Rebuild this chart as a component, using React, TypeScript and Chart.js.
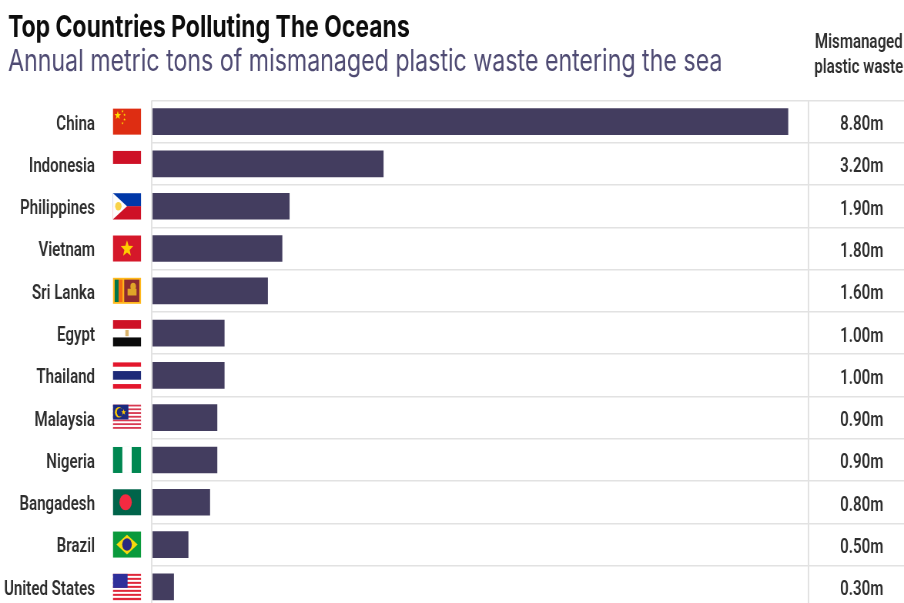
import React, { useEffect, useRef } from "react";
import { Chart, registerables } from "chart.js";

Chart.register(...registerables);

const countries = ["China", "Indonesia", "Philippines", "Vietnam", "Sri Lanka", "Egypt", "Thailand", "Malaysia", "Nigeria", "Bangadesh", "Brazil", "United States"];
const wasteMillions = [8.8, 3.2, 1.9, 1.8, 1.6, 1.0, 1.0, 0.9, 0.9, 0.8, 0.5, 0.3];
const columnHeader = ["Mismanaged", "plastic waste"];
const titleText = "Top Countries Polluting The Oceans";
const subtitleText = "Annual metric tons of mismanaged plastic waste entering the sea";

// The drawing is laid out on a wider canvas and narrowed with a CSS transform.
const SQUEEZE = 0.77;
const VIEW_W = 904;
const VIEW_H = 603;
const CANVAS_W = Math.round(VIEW_W / SQUEEZE);
const CANVAS_H = 608;
const sx = (x: number) => x / SQUEEZE;

const LABEL_FONT = { family: "Roboto", size: 19.6, weight: 600 };
const LABEL_COLOR = "#2e2e2e";

type Ctx = CanvasRenderingContext2D;

function hStripes(c: Ctx, x: number, y: number, w: number, h: number, colors: string[], weights?: number[]) {
  const ws = weights ?? colors.map(() => 1);
  const total = ws.reduce((a, b) => a + b, 0);
  let cy = y;
  colors.forEach((col, i) => {
    const sh = (ws[i] / total) * h;
    c.fillStyle = col;
    c.fillRect(x, cy, w, sh + 0.3);
    cy += sh;
  });
}

function star(c: Ctx, cx: number, cy: number, r: number, color: string) {
  c.fillStyle = color;
  c.beginPath();
  for (let i = 0; i < 10; i++) {
    const rad = i % 2 === 0 ? r : r * 0.42;
    const a = -Math.PI / 2 + (i * Math.PI) / 5;
    const px = cx + rad * Math.cos(a);
    const py = cy + rad * Math.sin(a);
    if (i === 0) c.moveTo(px, py);
    else c.lineTo(px, py);
  }
  c.closePath();
  c.fill();
}

const flagPainters: ((c: Ctx, x: number, y: number, w: number, h: number) => void)[] = [
  // China
  (c, x, y, w, h) => {
    c.fillStyle = "#de2d12";
    c.fillRect(x, y, w, h);
    star(c, x + w * 0.17, y + h * 0.26, h * 0.17, "#ffde00");
    [[0.34, 0.1], [0.41, 0.24], [0.41, 0.42], [0.34, 0.56]].forEach(([a, b]) => star(c, x + w * a, y + h * b, h * 0.06, "#ffde00"));
  },
  // Indonesia
  (c, x, y, w, h) => hStripes(c, x, y, w, h, ["#ce1126", "#ffffff"]),
  // Philippines
  (c, x, y, w, h) => {
    hStripes(c, x, y, w, h, ["#0038a8", "#ce1126"]);
    c.fillStyle = "#fdfdfd";
    c.beginPath();
    c.moveTo(x, y);
    c.lineTo(x + w * 0.5, y + h / 2);
    c.lineTo(x, y + h);
    c.closePath();
    c.fill();
    c.fillStyle = "#f8d24a";
    c.beginPath();
    c.arc(x + w * 0.19, y + h / 2, h * 0.16, 0, Math.PI * 2);
    c.fill();
  },
  // Vietnam
  (c, x, y, w, h) => {
    c.fillStyle = "#d5182a";
    c.fillRect(x, y, w, h);
    star(c, x + w / 2, y + h * 0.51, h * 0.33, "#ffcd00");
  },
  // Sri Lanka
  (c, x, y, w, h) => {
    c.fillStyle = "#ffb81c";
    c.fillRect(x, y, w, h);
    c.fillStyle = "#00754a";
    c.fillRect(x + w * 0.06, y + h * 0.07, w * 0.14, h * 0.86);
    c.fillStyle = "#f26a12";
    c.fillRect(x + w * 0.2, y + h * 0.07, w * 0.14, h * 0.86);
    c.fillStyle = "#8d2a30";
    c.fillRect(x + w * 0.4, y + h * 0.07, w * 0.54, h * 0.86);
    c.fillStyle = "#e0a428";
    c.fillRect(x + w * 0.52, y + h * 0.42, w * 0.32, h * 0.26);
    c.beginPath();
    c.arc(x + w * 0.72, y + h * 0.33, h * 0.14, 0, Math.PI * 2);
    c.fill();
  },
  // Egypt
  (c, x, y, w, h) => {
    hStripes(c, x, y, w, h, ["#ce1126", "#ffffff", "#0a0a0a"]);
    c.fillStyle = "#d9b26a";
    c.fillRect(x + w * 0.44, y + h * 0.38, w * 0.12, h * 0.24);
  },
  // Thailand
  (c, x, y, w, h) => hStripes(c, x, y, w, h, ["#e3172d", "#ffffff", "#1d2a78", "#ffffff", "#e3172d"], [1, 1, 2, 1, 1]),
  // Malaysia
  (c, x, y, w, h) => {
    const rows = Array.from({ length: 14 }, (_, i) => (i % 2 === 0 ? "#d83a52" : "#ffffff"));
    hStripes(c, x, y, w, h, rows);
    c.fillStyle = "#1b2a80";
    c.fillRect(x, y, w * 0.55, h * 0.57);
    c.fillStyle = "#ffcc00";
    c.beginPath();
    c.arc(x + w * 0.21, y + h * 0.29, h * 0.2, 0, Math.PI * 2);
    c.fill();
    c.fillStyle = "#1b2a80";
    c.beginPath();
    c.arc(x + w * 0.25, y + h * 0.29, h * 0.16, 0, Math.PI * 2);
    c.fill();
    star(c, x + w * 0.38, y + h * 0.29, h * 0.12, "#ffcc00");
  },
  // Nigeria
  (c, x, y, w, h) => {
    c.fillStyle = "#008751";
    c.fillRect(x, y, w, h);
    c.fillStyle = "#ffffff";
    c.fillRect(x + w / 3, y, w / 3, h);
  },
  // Bangladesh
  (c, x, y, w, h) => {
    c.fillStyle = "#00644a";
    c.fillRect(x, y, w, h);
    c.fillStyle = "#f42a41";
    c.beginPath();
    c.arc(x + w * 0.45, y + h / 2, h * 0.31, 0, Math.PI * 2);
    c.fill();
  },
  // Brazil
  (c, x, y, w, h) => {
    c.fillStyle = "#0a9a3c";
    c.fillRect(x, y, w, h);
    c.fillStyle = "#f7d90e";
    c.beginPath();
    c.moveTo(x + w * 0.12, y + h / 2);
    c.lineTo(x + w / 2, y + h * 0.12);
    c.lineTo(x + w * 0.88, y + h / 2);
    c.lineTo(x + w / 2, y + h * 0.88);
    c.closePath();
    c.fill();
    c.fillStyle = "#2a2a80";
    c.beginPath();
    c.arc(x + w / 2, y + h / 2, h * 0.24, 0, Math.PI * 2);
    c.fill();
  },
  // United States
  (c, x, y, w, h) => {
    const rows = Array.from({ length: 13 }, (_, i) => (i % 2 === 0 ? "#e0263a" : "#ffffff"));
    hStripes(c, x, y, w, h, rows);
    c.fillStyle = "#2f2f9a";
    c.fillRect(x, y, w * 0.52, h * 0.54);
  },
];

// Flags in the gutter between the country names and the bars.
const flagsPlugin = {
  id: "flags",
  afterDatasetsDraw(chart: any) {
    const { ctx, scales } = chart;
    const w = sx(28);
    const h = 26;
    countries.forEach((_, i) => {
      const cy = scales.y.getPixelForValue(i);
      ctx.save();
      flagPainters[i](ctx, sx(113), cy - h / 2, w, h);
      ctx.restore();
    });
  },
};

const VALUE_COLUMN_X = 9.82;
const HEADER_COLUMN_X = 9.78;

// Right-hand column: its header and one formatted value per row.
const valueColumnPlugin = {
  id: "valueColumn",
  afterDatasetsDraw(chart: any) {
    const { ctx, scales } = chart;
    ctx.save();
    ctx.font = `${LABEL_FONT.weight} ${LABEL_FONT.size}px ${LABEL_FONT.family}`;
    ctx.fillStyle = LABEL_COLOR;
    ctx.textAlign = "center";
    ctx.textBaseline = "middle";
    const vx = scales.x.getPixelForValue(VALUE_COLUMN_X);
    wasteMillions.forEach((v, i) => {
      ctx.fillText(`${v.toFixed(2)}m`, vx, scales.y.getPixelForValue(i) + 3.5);
    });
    const hx = scales.x.getPixelForValue(HEADER_COLUMN_X);
    columnHeader.forEach((line, i) => {
      ctx.fillText(line, hx, 43 + i * 25.5);
    });
    ctx.restore();
  },
};

// Let the longest country name use the whole gutter instead of being clipped at the axis box.
const labelGutterPlugin = {
  id: "labelGutter",
  afterLayout(chart: any) {
    chart.scales.y.left = 0;
  },
};

export default function App() {
  const ref = useRef<HTMLCanvasElement>(null);

  useEffect(() => {
    document.body.style.background = "#ffffff";
    const chart = new Chart(ref.current!, {
      type: "bar",
      data: {
        labels: countries,
        datasets: [
          {
            data: wasteMillions,
            backgroundColor: "#433d5f",
            borderWidth: 0,
            barThickness: 26,
          },
        ],
      },
      plugins: [flagsPlugin, valueColumnPlugin, labelGutterPlugin],
      options: {
        indexAxis: "y",
        responsive: false,
        maintainAspectRatio: false,
        animation: false,
        devicePixelRatio: 1,
        layout: { padding: { top: 12, left: sx(8), right: 0, bottom: 0 } },
        plugins: {
          legend: { display: false },
          tooltip: { enabled: false },
          title: {
            display: true,
            text: titleText,
            align: "start",
            color: "#0d0d0d",
            font: { family: "Inter", size: 29.8, weight: 700, lineHeight: 1.1 },
            padding: { top: 0, bottom: 0.7 },
          },
          subtitle: {
            display: true,
            text: subtitleText,
            align: "start",
            color: "#4f4b73",
            font: { family: "Inter", size: 30.1, weight: 400, lineHeight: 1.1 },
            padding: { top: 0, bottom: 21.9 },
          },
        },
        scales: {
          x: {
            min: 0,
            max: 10.405,
            afterBuildTicks(scale: any) {
              scale.ticks = [{ value: 0 }, { value: 9.08 }];
            },
            ticks: { display: false },
            border: { display: false },
            grid: { color: "#e2e2e2", lineWidth: 2, drawTicks: false },
          },
          y: {
            offset: true,
            afterFit(scale: any) {
              scale.width = sx(152 - 8);
              // The wide tick padding must not eat into the plot's height.
              scale.paddingTop = 0;
              scale.paddingBottom = 0;
            },
            ticks: {
              padding: sx(152 - 95),
              labelOffset: 3,
              autoSkip: false,
              color: LABEL_COLOR,
              font: LABEL_FONT,
            },
            border: { display: false },
            grid: { color: "#e2e2e2", lineWidth: 1.6, drawTicks: false },
          },
        },
      },
    } as any);
    return () => chart.destroy();
  }, []);

  return (
    <div style={{ position: "absolute", left: 0, top: 0, width: VIEW_W, height: VIEW_H, overflow: "hidden", background: "#ffffff" }}>
      <div style={{ width: CANVAS_W, height: CANVAS_H, transform: `scaleX(${SQUEEZE})`, transformOrigin: "0 0" }}>
        <canvas ref={ref} width={CANVAS_W} height={CANVAS_H} />
      </div>
    </div>
  );
}
